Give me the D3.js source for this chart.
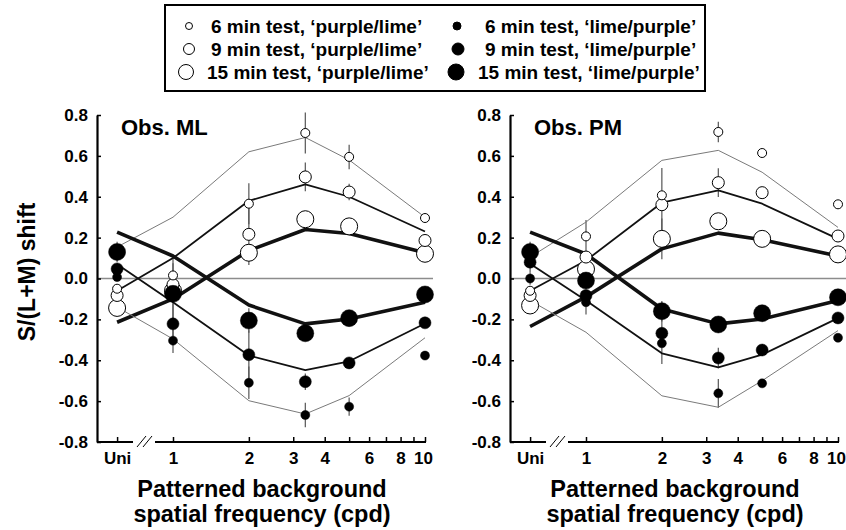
<!DOCTYPE html>
<html>
<head>
<meta charset="utf-8">
<title>S/(L+M) shift vs patterned background spatial frequency</title>
<script src="https://cdn.jsdelivr.net/npm/d3@7"></script>
<style>
  body { margin: 0; background: #fff; }
  svg { display: block; font-family: "Liberation Sans", Arial, Helvetica, sans-serif; font-weight: bold; }
</style>
</head>
<body>
<div id="chart"></div>
<script>
// spatial frequencies (cpd), "Uni" = uniform background
const categories = ["Uni", 1, 2, 3.35, 5, 10];
const uniAt = 0.6;                       // where "Uni" sits on the log axis
const xTicks = [1, 2, 3, 4, 5, 6, 7, 8, 9, 10];
const xTickLabels = [1, 2, 3, 4, 6, 8, 10];
const yTicks = [-0.8, -0.6, -0.4, -0.2, 0, 0.2, 0.4, 0.6, 0.8];
const durations = [6, 9, 15];

// Obs. ML  -- measured shifts
const mlOpen6  = [-0.05, 0.015, 0.366, 0.712, 0.595, 0.296];
const mlOpen9  = [-0.083, -0.03, 0.216, 0.497, 0.423, 0.186];
const mlOpen15 = [-0.144, -0.06, 0.126, 0.29, 0.255, 0.121];
const mlFill6  = [0.007, -0.304, -0.51, -0.668, -0.627, -0.377];
const mlFill9  = [0.047, -0.222, -0.373, -0.505, -0.413, -0.217];
const mlFill15 = [0.13, -0.075, -0.206, -0.268, -0.194, -0.078];
// Obs. ML  -- error bars (half length)
const mlErrOpen6  = [0, 0.1, 0.1, 0.1, 0.06, 0.02];
const mlErrOpen9  = [0, 0, 0.15, 0.07, 0.04, 0];
const mlErrOpen15 = [0, 0, 0, 0, 0, 0];
const mlErrFill6  = [0.02, 0.06, 0.08, 0.06, 0.045, 0.02];
const mlErrFill9  = [0, 0.1, 0.12, 0.04, 0, 0];
const mlErrFill15 = [0.05, 0.15, 0.06, 0, 0, 0];
// Obs. ML  -- model fits
const mlFitOpen6  = [0.154, 0.30, 0.62, 0.69, 0.58, 0.30];
const mlFitOpen9  = [-0.06, 0.10, 0.38, 0.46, 0.40, 0.23];
const mlFitOpen15 = [-0.214, -0.10, 0.137, 0.24, 0.22, 0.126];
const mlFitFill6  = [-0.14, -0.296, -0.598, -0.663, -0.573, -0.29];
const mlFitFill9  = [0.07, -0.116, -0.377, -0.448, -0.405, -0.22];
const mlFitFill15 = [0.227, 0.11, -0.13, -0.222, -0.198, -0.116];

// Obs. PM  -- measured shifts
const pmOpen6  = [-0.06, 0.206, 0.407, 0.717, 0.614, 0.363];
const pmOpen9  = [-0.083, 0.105, 0.361, 0.469, 0.42, 0.208];
const pmOpen15 = [-0.132, 0.046, 0.194, 0.28, 0.194, 0.118];
const pmFill6  = [0.0, -0.116, -0.317, -0.562, -0.513, -0.29];
const pmFill9  = [0.08, -0.083, -0.268, -0.389, -0.35, -0.193];
const pmFill15 = [0.13, -0.01, -0.16, -0.225, -0.17, -0.092];
// Obs. PM  -- error bars
const pmErrOpen6  = [0, 0.08, 0.02, 0.05, 0, 0];
const pmErrOpen9  = [0, 0, 0.18, 0.07, 0, 0];
const pmErrOpen15 = [0, 0, 0.1, 0, 0, 0];
const pmErrFill6  = [0.03, 0.06, 0, 0.07, 0, 0];
const pmErrFill9  = [0.05, 0, 0.15, 0.05, 0, 0];
const pmErrFill15 = [0.05, 0, 0.05, 0, 0, 0];
// Obs. PM  -- model fits
const pmFitOpen6  = [0.105, 0.276, 0.578, 0.627, 0.52, 0.25];
const pmFitOpen9  = [-0.06, 0.088, 0.371, 0.431, 0.366, 0.194];
const pmFitOpen15 = [-0.235, -0.09, 0.145, 0.222, 0.19, 0.11];
const pmFitFill6  = [-0.108, -0.263, -0.574, -0.63, -0.5, -0.255];
const pmFitFill9  = [0.072, -0.108, -0.366, -0.435, -0.373, -0.194];
const pmFitFill15 = [0.227, 0.12, -0.149, -0.222, -0.198, -0.108];


// styles per test duration (6, 9, 15 min)
const radius = [4.5, 6, 8.5];
const fitWidth = [1, 1.8, 3.6];
const fitColor = ["#7a7a7a", "#111", "#111"];

const svg = d3.select("#chart")
  .append("svg")
  .attr("width", 846)
  .attr("height", 530);


function drawPanel(dx, title, open, fill, openErr, fillErr, fits) {

  const x = d3.scaleLog().domain([1, 10]).range([173 + dx, 425 + dx]);
  const y = d3.scaleLinear().domain([-0.8, 0.8]).range([442, 115]);
  const xOf = c => x(c === "Uni" ? uniAt : c);
  const axisX = 97 + dx;

  const g = svg.append("g");

  // zero reference line
  g.append("line")
    .attr("x1", axisX).attr("x2", 433 + dx)
    .attr("y1", y(0)).attr("y2", y(0))
    .attr("stroke", "#8c8c8c")
    .attr("stroke-width", 1.6);

  // y axis
  g.append("g")
    .attr("transform", `translate(${axisX},0)`)
    .call(d3.axisLeft(y)
      .tickValues(yTicks)
      .tickFormat(d => d.toFixed(1))
      .tickSizeInner(-4)
      .tickSizeOuter(0)
      .tickPadding(9))
    .attr("font-family", null)
    .attr("font-size", 17)
    .call(a => a.select(".domain").attr("stroke-width", 2.2))
    .call(a => a.selectAll(".tick line").attr("stroke-width", 1.5))
    .call(a => a.selectAll(".tick text").attr("fill", "#000"));

  // x axis (broken between Uni and 1)
  g.append("g")
    .attr("transform", "translate(0,442)")
    .call(d3.axisBottom(x)
      .tickValues([uniAt, ...xTicks])
      .tickFormat(d => d === uniAt ? "Uni" : (xTickLabels.includes(d) ? d : ""))
      .tickSizeInner(-5)
      .tickSizeOuter(0)
      .tickPadding(10))
    .attr("font-family", null)
    .attr("font-size", 17)
    .call(a => a.select(".domain").remove())
    .call(a => a.selectAll(".tick line").attr("stroke-width", 1.5))
    .call(a => a.selectAll(".tick text")
      .attr("fill", "#000")
      .attr("dx", d => d === 10 ? -2 : 0));

  g.append("line")
    .attr("x1", axisX).attr("x2", axisX + 36)
    .attr("y1", 442).attr("y2", 442)
    .attr("stroke", "#000").attr("stroke-width", 2.2);
  g.append("line")
    .attr("x1", x(1) - 18).attr("x2", x(10) + 1)
    .attr("y1", 442).attr("y2", 442)
    .attr("stroke", "#000").attr("stroke-width", 2.2);
  [40, 46].forEach(o => {
    g.append("line")
      .attr("x1", axisX + o).attr("y1", 447)
      .attr("x2", axisX + o + 9).attr("y2", 436)
      .attr("stroke", "#000").attr("stroke-width", 1);
  });

  // error bars
  const bars = [];
  [open, fill].forEach((set, k) => {
    const errs = k === 0 ? openErr : fillErr;
    set.forEach((vals, s) => vals.forEach((v, i) => {
      if (errs[s][i] > 0) bars.push({c: categories[i], v: v, e: errs[s][i]});
    }));
  });
  g.append("g")
    .selectAll("line")
    .data(bars)
    .join("line")
      .attr("x1", d => xOf(d.c)).attr("x2", d => xOf(d.c))
      .attr("y1", d => y(d.v - d.e)).attr("y2", d => y(d.v + d.e))
      .attr("stroke", "#555")
      .attr("stroke-width", 1.2);

  // model fits
  const line = d3.line()
    .x((d, i) => xOf(categories[i]))
    .y(d => y(d));
  fits.forEach((f, s) => {
    g.append("path")
      .attr("d", line(f))
      .attr("fill", "none")
      .attr("stroke", fitColor[s % 3])
      .attr("stroke-width", fitWidth[s % 3])
      .attr("stroke-linejoin", "round");
  });

  // data points: open = 'purple/lime', filled = 'lime/purple'
  [open, fill].forEach((set, k) => {
    [2, 1, 0].forEach(s => {
      g.append("g")
        .selectAll("circle")
        .data(set[s])
        .join("circle")
          .attr("cx", (d, i) => xOf(categories[i]))
          .attr("cy", d => y(d))
          .attr("r", radius[s])
          .attr("fill", k === 0 ? "#fff" : "#000")
          .attr("stroke", "#000")
          .attr("stroke-width", k === 0 ? 1 : 0.5);
    });
  });

  g.append("text")
    .attr("x", axisX + 24)
    .attr("y", 135)
    .attr("font-size", 22)
    .text(title);

  g.append("text")
    .attr("x", 262 + dx)
    .attr("y", 497)
    .attr("font-size", 23.5)
    .attr("text-anchor", "middle")
    .text("Patterned background");
  g.append("text")
    .attr("x", 262 + dx)
    .attr("y", 522)
    .attr("font-size", 23.5)
    .attr("text-anchor", "middle")
    .text("spatial frequency (cpd)");
}

drawPanel(0, "Obs. ML",
  [mlOpen6, mlOpen9, mlOpen15],
  [mlFill6, mlFill9, mlFill15],
  [mlErrOpen6, mlErrOpen9, mlErrOpen15],
  [mlErrFill6, mlErrFill9, mlErrFill15],
  [mlFitOpen6, mlFitOpen9, mlFitOpen15, mlFitFill6, mlFitFill9, mlFitFill15]);

drawPanel(413, "Obs. PM",
  [pmOpen6, pmOpen9, pmOpen15],
  [pmFill6, pmFill9, pmFill15],
  [pmErrOpen6, pmErrOpen9, pmErrOpen15],
  [pmErrFill6, pmErrFill9, pmErrFill15],
  [pmFitOpen6, pmFitOpen9, pmFitOpen15, pmFitFill6, pmFitFill9, pmFitFill15]);

// y axis title
svg.append("text")
  .attr("transform", "translate(35,272) rotate(-90)")
  .attr("text-anchor", "middle")
  .attr("font-size", 23)
  .text("S/(L+M) shift");


// legend
svg.append("rect")
  .attr("x", 165).attr("y", 5)
  .attr("width", 540).attr("height", 86)
  .attr("fill", "none")
  .attr("stroke", "#000")
  .attr("stroke-width", 2);

const legendRowY = [26, 49, 72];
const legendSymX = [[189, 189, 186], [457, 458, 456]];
const legendTextX = [[211, 211, 207], [485, 485, 478]];
const legendR = [[3.5, 5.5, 7.5], [4, 6, 8]];
const legendNames = ["‘purple/lime’", "‘lime/purple’"];

legendNames.forEach((name, k) => {
  durations.forEach((m, s) => {
    svg.append("circle")
      .attr("cx", legendSymX[k][s])
      .attr("cy", legendRowY[s])
      .attr("r", legendR[k][s])
      .attr("fill", k === 0 ? "#fff" : "#000")
      .attr("stroke", "#000")
      .attr("stroke-width", 1);
    svg.append("text")
      .attr("x", legendTextX[k][s])
      .attr("y", legendRowY[s] + 7)
      .attr("font-size", 19)
      .text(`${m} min test, ${name}`);
  });
});
</script>
</body>
</html>
